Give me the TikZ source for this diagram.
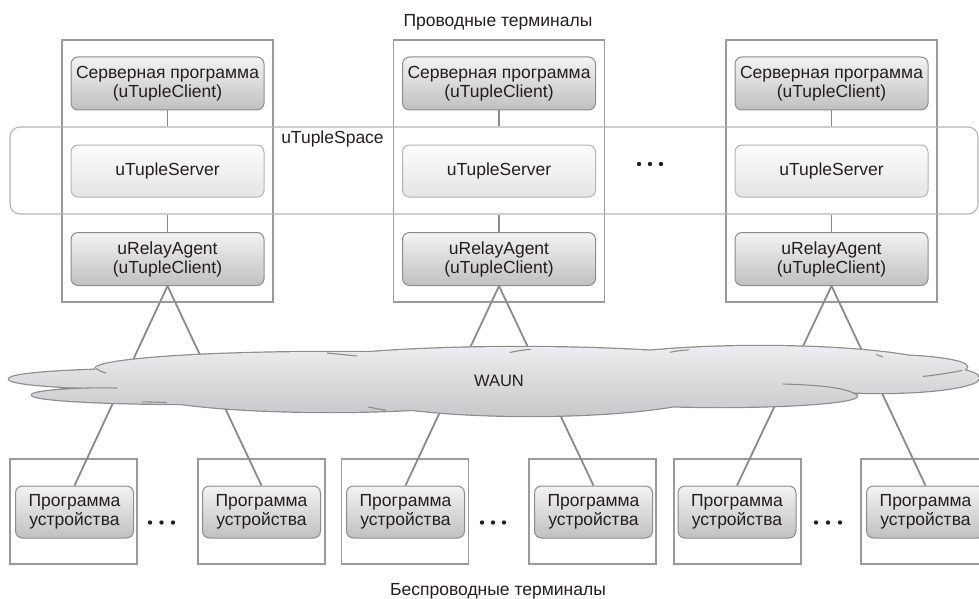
\documentclass[tikz,border=0pt]{standalone}
\usepackage{fontspec}
\setmainfont{Liberation Sans}

\definecolor{ink}{HTML}{231F20}
\definecolor{termline}{HTML}{9A9A9A}
\definecolor{boxline}{HTML}{8C8C8C}
\definecolor{boxtop}{HTML}{F3F3F3}
\definecolor{boxbot}{HTML}{C0C0C0}
\definecolor{srvtop}{HTML}{FCFCFC}
\definecolor{srvbot}{HTML}{E5E5E5}
\definecolor{srvline}{HTML}{B4B4B4}
\definecolor{linkgray}{HTML}{8A8A8A}
\definecolor{cloudtop}{HTML}{EDEDEF}
\definecolor{cloudbot}{HTML}{C8C8CA}
\definecolor{cloudline}{HTML}{8C8C8C}

\tikzset{
  txt/.style={font=\fontsize{17.5}{19}\selectfont, text=ink, align=center, inner sep=0pt},
  terminal/.style={draw=termline, line width=1.2pt, minimum width=211pt, minimum height=262pt, inner sep=0pt},
  device/.style={draw=termline, line width=1.2pt, minimum width=127pt, minimum height=105pt, inner sep=0pt},
  prog/.style={txt, draw=boxline, line width=1pt, rounded corners=7pt,
    top color=boxtop, bottom color=boxbot, minimum width=193pt, minimum height=53pt},
  devprog/.style={prog, minimum width=118pt, minimum height=52pt},
  server/.style={txt, draw=srvline, line width=1pt, rounded corners=7pt,
    top color=srvtop, bottom color=srvbot, minimum width=193pt, minimum height=52pt},
  spaceband/.style={draw=srvline, line width=1.1pt, rounded corners=10pt,
    minimum width=968pt, minimum height=87pt, inner sep=0pt},
  conn/.style={draw=linkgray, line width=1.9pt},
  link/.style={draw=linkgray, line width=1.8pt},
  seam/.style={draw=cloudline, line width=1.1pt},
  cloudshape/.style={insert path={
    (150,379) ellipse [x radius=141pt, y radius=10pt]
    (190,395) ellipse [x radius=158pt, y radius=9pt]
    (330,369) ellipse [x radius=235pt, y radius=17pt]
    (330,388) ellipse [x radius=200pt, y radius=24pt]
    (530,386) ellipse [x radius=195pt, y radius=30pt]
    (520,368) ellipse [x radius=230pt, y radius=21pt]
    (760,370) ellipse [x radius=185pt, y radius=24pt]
    (720,396) ellipse [x radius=137pt, y radius=11pt]
    (880,378) ellipse [x radius=99pt, y radius=15pt]
    (880,367) ellipse [x radius=87pt, y radius=12pt]
  }},
  dot/.style={fill=ink}
}

\begin{document}
\begin{tikzpicture}[x=1pt, y=-1pt]
\useasboundingbox (0,0) rectangle (979,599);

% titles
\node[txt] (wired) at (498,22) {Проводные терминалы};
\node[txt] (wireless) at (498,591) {Беспроводные терминалы};

% wired terminals
\foreach \i/\x in {1/167.5, 2/499, 3/831.5} {
  \node[terminal] (term\i) at (\x,171) {};
}

% shared tuple space band
\node[spaceband] (space) at (494,170.5) {};
\node[txt, anchor=center] (spacelabel) at (332.5,138.5) {uTupleSpace};

% programs inside the wired terminals
\foreach \i/\x in {1/167.5, 2/499, 3/831.5} {
  \node[prog] (sp\i) at (\x,83.5) {Серверная программа\\(uTupleClient)};
  \node[server] (srv\i) at (\x,171) {uTupleServer};
  \node[prog] (ra\i) at (\x,259) {uRelayAgent\\(uTupleClient)};
  \draw[conn] (sp\i.south) -- (sp\i.south |- space.north);
  \draw[conn] (space.south -| ra\i.north) -- (ra\i.north);
}

% ellipsis between wired terminals
\foreach \x in {639,650,661} { \fill[dot] (\x,164) circle (2.2pt); }

% wireless terminals
\foreach \i/\x/\xi in {1/73.5/74.5, 2/261.5/261.5, 3/405/405.5, 4/592.5/593.5, 5/737.5/737, 6/924.5/925.5} {
  \node[device] (dbox\i) at (\x,511.5) {};
  \node[devprog] (dev\i) at (\xi,512) {Программа\\устройства};
}

% relay links through the wireless network
\draw[link] (ra1.south) -- (dev1.north);
\draw[link] (ra1.south) -- (dev2.north);
\draw[link] (ra2.south) -- (dev3.north);
\draw[link] (ra2.south) -- (dev4.north);
\draw[link] (ra3.south) -- (dev5.north);
\draw[link] (ra3.south) -- (dev6.north);

% WAUN cloud: outline first, then the union shaded on top
\path[draw=cloudline, line width=2.4pt, cloudshape];
\shade[top color=cloudtop, bottom color=cloudbot, cloudshape];
% seams between the lobes
\draw[seam] (57,389.5) .. controls (80,387.8) and (100,387.6) .. (117,388);
\draw[seam] (96,368.5) .. controls (99,370.5) and (102,372) .. (106,373);
\draw[seam] (142,401.8) .. controls (150,402) and (160,402.3) .. (167,402.6);
\draw[seam] (327,353) .. controls (337,354) and (347,355) .. (357,356);
\draw[seam] (368,407) .. controls (374,408) and (380,409.3) .. (386,410.3);
\draw[seam] (510,352.5) .. controls (516,351) and (523,350) .. (531,349.3);
\draw[seam] (670,352.3) .. controls (676,351) and (682,350.3) .. (689,349.8);
\draw[seam] (783,384) .. controls (820,385) and (848,388) .. (857,395);
\draw[seam] (876,354.8) .. controls (879,355.3) and (881,356) .. (883,357);
\draw[seam] (923,376.5) .. controls (940,374.5) and (952,372.5) .. (962,370.5);
\node[font=\fontsize{16.5}{18}\selectfont, text=ink, inner sep=0pt] (waun) at (499,381) {WAUN};

% ellipses between wireless terminals
\foreach \x in {150,161.5,173} { \fill[dot] (\x,522.5) circle (2.2pt); }
\foreach \x in {482,493,504} { \fill[dot] (\x,522.5) circle (2.2pt); }
\foreach \x in {816,828,840} { \fill[dot] (\x,522.5) circle (2.2pt); }
\end{tikzpicture}
\end{document}
